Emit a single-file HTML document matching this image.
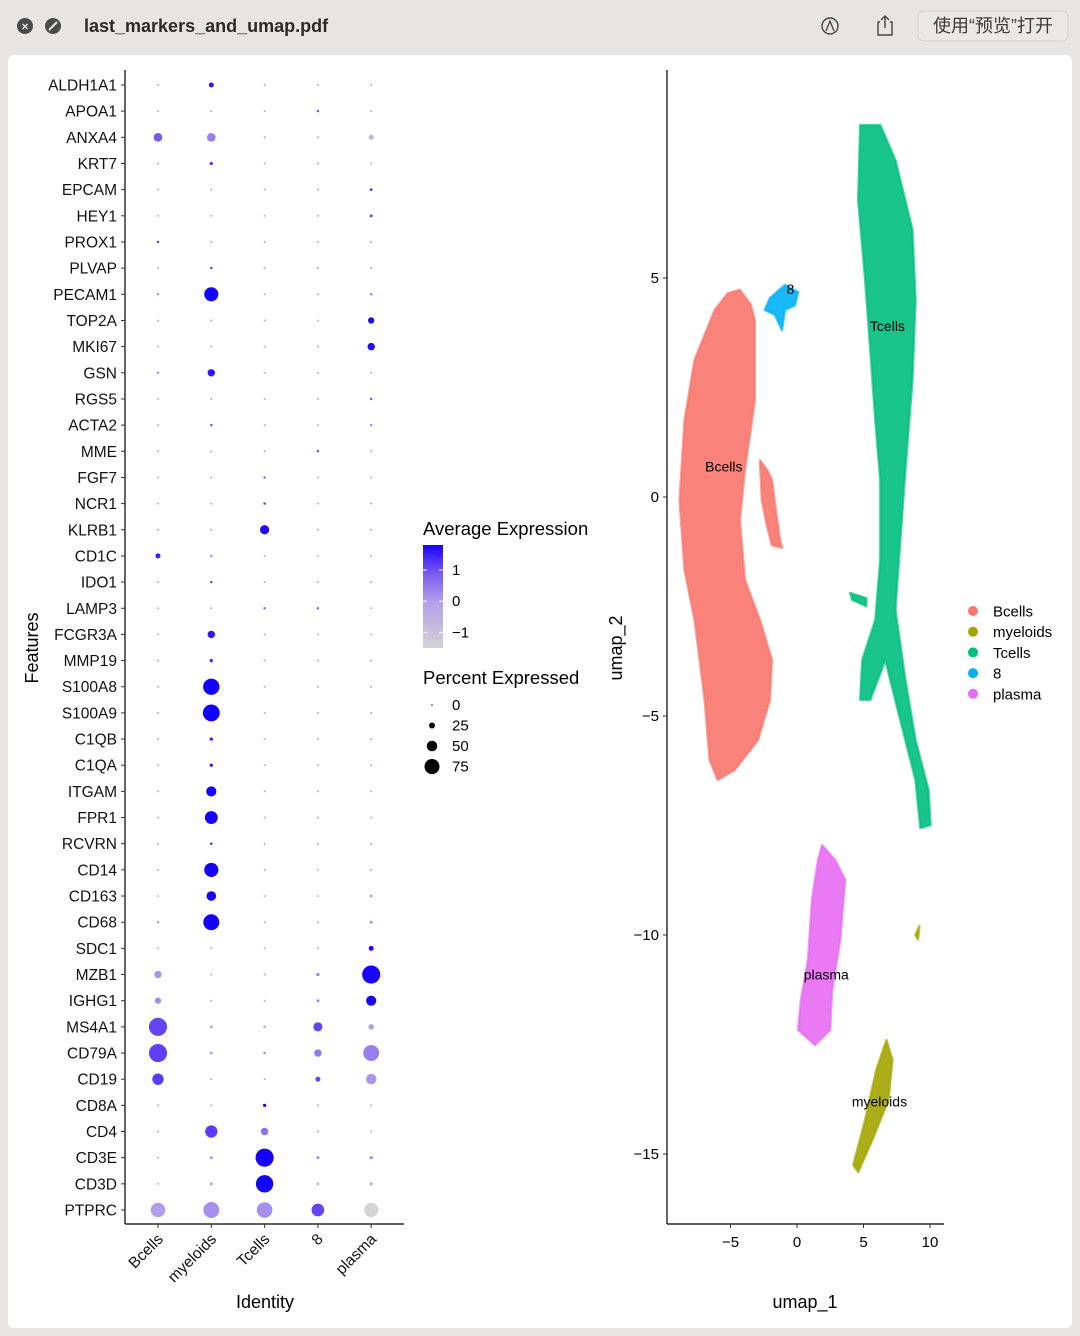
<!DOCTYPE html>
<html><head><meta charset="utf-8">
<style>
html,body{margin:0;padding:0;width:1080px;height:1336px;overflow:hidden;background:#e6e5e4;font-family:"Liberation Sans","Noto Sans CJK SC",sans-serif;}
svg text{font-family:"Liberation Sans","Noto Sans CJK SC",sans-serif;}
</style></head>
<body>
<svg id="root" width="1080" height="1336" viewBox="0 0 1080 1336" xmlns="http://www.w3.org/2000/svg">
  <rect x="0" y="0" width="1080" height="1336" fill="#e6e5e4"/>
  <g>
    <circle cx="25" cy="26" r="8" fill="#4a4a4a"/>
    <text x="25" y="30.5" font-size="12" fill="#e6e5e4" text-anchor="middle" font-weight="bold">×</text>
    <circle cx="53" cy="26" r="8" fill="#4a4a4a"/>
    <line x1="49" y1="30" x2="57" y2="22" stroke="#e6e5e4" stroke-width="2"/>
    <text x="84" y="32" font-size="18" fill="#2a2a2a" font-weight="bold">last_markers_and_umap.pdf</text>
    <circle cx="830" cy="26" r="8" fill="none" stroke="#444" stroke-width="1.4"/>
    <path d="M826 31 L830 21 L834 31" fill="none" stroke="#444" stroke-width="1.3"/>
    <g>
      <path d="M880 22 L878 22 L878 35 L892 35 L892 22 L890 22" fill="none" stroke="#444" stroke-width="1.4"/>
      <path d="M885 28 L885 16 M881 20 L885 16 L889 20" fill="none" stroke="#444" stroke-width="1.4"/>
    </g>
    <rect x="918" y="11" width="150" height="30" rx="6" fill="#e9e8e7" stroke="#d2d1d0"/>
    <text x="993" y="32" font-size="18" fill="#3a3a3a" text-anchor="middle">使用“预览”打开</text>
  </g>
  <rect x="8" y="55" width="1064" height="1273" rx="6" fill="#ffffff"/>
  <g id="dotplot"></g>
  <g id="umap"></g>
</svg>
<script>
const genes = ["ALDH1A1","APOA1","ANXA4","KRT7","EPCAM","HEY1","PROX1","PLVAP","PECAM1","TOP2A","MKI67","GSN","RGS5","ACTA2","MME","FGF7","NCR1","KLRB1","CD1C","IDO1","LAMP3","FCGR3A","MMP19","S100A8","S100A9","C1QB","C1QA","ITGAM","FPR1","RCVRN","CD14","CD163","CD68","SDC1","MZB1","IGHG1","MS4A1","CD79A","CD19","CD8A","CD4","CD3E","CD3D","PTPRC"];
const identities = ["Bcells","myeloids","Tcells","8","plasma"];
const pctExpressed = [
[3,20,3,3,3],[3,3,3,6,3],[40,40,4,4,20],[3,10,3,3,3],[3,3,3,3,8],[3,3,3,3,8],[6,3,3,3,3],[3,6,3,3,3],[6,70,3,3,8],[3,3,3,3,27],
[3,3,3,3,33],[6,33,3,3,3],[3,3,3,3,6],[3,6,3,3,6],[3,3,3,6,3],[3,3,6,3,3],[3,3,6,3,3],[3,3,43,3,3],[20,6,3,3,3],[3,6,3,3,3],
[3,3,6,6,3],[3,33,3,3,3],[3,10,3,3,3],[3,82,3,3,3],[3,85,3,3,3],[3,10,3,3,3],[3,10,3,3,3],[3,48,3,3,3],[3,63,3,3,3],[3,6,3,3,3],
[3,70,3,3,3],[3,45,3,3,6],[6,80,3,3,8],[3,3,3,3,20],[33,3,3,10,92],[27,3,3,8,48],[92,8,6,43,22],[92,8,8,33,80],[55,3,3,20,50],[3,3,10,3,3],
[3,60,33,3,3],[3,8,92,10,10],[3,8,88,6,8],[72,80,78,62,70]];
const avgExpression = [
[0,1.6,0,0,0],[0,0,0,1,0],[0.9,0.4,0,0,-0.6],[0,1.3,0,0,0],[0,0,0,0,1.2],[0,0,0,0,1.2],[1.2,0,0,0,0],[0,1.2,0,0,0],[0.2,1.8,0,0,0.1],[0,0,0,0,1.7],
[0,0,0,0,1.7],[0.3,1.6,0,0,0],[0,0,0,0,1],[0,1,0,0,0.3],[0,0,0,1,0],[0,0,0.8,0,0],[0,0,1.2,0,0],[0,0,1.7,0,0],[1.5,0.3,0,0,0],[0,1.2,0,0,0],
[0,0,0.8,0.8,0],[0,1.6,0,0,0],[0,1.5,0,0,0],[0,1.8,0,0,0],[0,1.8,0,0,0],[0,1.6,0,0,0],[0,1.6,0,0,0],[0,1.8,0,0,0],[0,1.8,0,0,0],[0,1.5,0,0,0],
[0,1.8,0,0,0],[0,1.8,0,0,0.3],[0.1,1.8,0,0,0.2],[0,0,0,0,1.7],[0.1,0,0,0.4,1.75],[0.2,0,0,0.3,1.75],[1.1,0,0,1.1,0],[1.15,0,0,0.5,0.4],[1.2,0,0,1.1,0.1],[0,0,1.7,0,0],
[0,1.2,0.6,0,0],[0,0.2,1.8,0.2,0.2],[0,0,1.8,0,0],[0,0.2,0.2,1.1,-1.5]];
const colorTicks = [1,0,-1];
const sizeTicks = [0,25,50,75];

const NS="http://www.w3.org/2000/svg";
function mk(tag,attrs,parent){const e=document.createElementNS(NS,tag);for(const k in attrs)e.setAttribute(k,attrs[k]);parent.appendChild(e);return e;}
const dp=document.getElementById('dotplot');
const colX = i => 158 + i*53.3;
const rowY = i => 85 + i*(1210-85)/43;
const radius = p => 0.7 + p*0.091;
const cMin=-1.5,cMax=1.8;
const stops=[[0,[211,211,211]],[0.45,[178,158,234]],[0.7,[128,96,240]],[0.85,[80,50,246]],[1,[20,0,255]]];
function colorOf(v){let t=(v-cMin)/(cMax-cMin);t=Math.max(0,Math.min(1,t));
  for(let k=1;k<stops.length;k++){if(t<=stops[k][0]){const a=stops[k-1],b=stops[k];const u=(t-a[0])/(b[0]-a[0]);
    const c=a[1].map((x,i)=>Math.round(x+(b[1][i]-x)*u));return `rgb(${c[0]},${c[1]},${c[2]})`;}}
  return 'rgb(20,0,255)';}
let ax=mk('line',{x1:125,y1:70,x2:125,y2:1224,stroke:'#000','stroke-width':1.2},dp);

ax=mk('line',{x1:125,y1:1224,x2:404,y2:1224,stroke:'#000','stroke-width':1.2},dp);

genes.forEach((g,i)=>{
  const y=rowY(i);
  const tk=mk('line',{x1:121,y1:y,x2:125,y2:y,stroke:'#333'},dp);
  
  
  const t=mk('text',{x:117,y:y+5.5,'font-size':15.5,'text-anchor':'end',fill:'#111'},dp);
  t.textContent=g;
  
  
  identities.forEach((id,j)=>{
    const c=mk('circle',{cx:colX(j),cy:y,r:radius(pctExpressed[i][j]),fill:colorOf(avgExpression[i][j])},dp);
    
    
  });
});
identities.forEach((id,j)=>{
  const x=colX(j);
  const tk=mk('line',{x1:x,y1:1224,x2:x,y2:1228,stroke:'#333'},dp);
  
  
  const t=mk('text',{x:x+6,y:1240,'font-size':15.5,'text-anchor':'end',transform:`rotate(-45 ${x+6} 1240)`,fill:'#111'},dp);
  t.textContent=id;
  
  
});
let tt=mk('text',{x:265,y:1308,'font-size':18,'text-anchor':'middle'},dp);tt.textContent='Identity';

tt=mk('text',{x:38,y:648,'font-size':18,'text-anchor':'middle',transform:'rotate(-90 38 648)'},dp);tt.textContent='Features';

const defs=mk('defs',{},dp);
const lg=mk('linearGradient',{id:'cg',x1:0,y1:1,x2:0,y2:0},defs);
stops.forEach(s=>mk('stop',{offset:String(s[0]),"stop-color":`rgb(${s[1].join(',')})`},lg));
tt=mk('text',{x:423,y:535,'font-size':18.5},dp);tt.textContent='Average Expression';

const cbTop=545,cbBot=648;
const cb=mk('rect',{x:423,y:cbTop,width:20,height:cbBot-cbTop,fill:'url(#cg)'},dp);

const cy = v => cbBot - (v-cMin)/(cMax-cMin)*(cbBot-cbTop);
colorTicks.forEach(v=>{
  const y=cy(v);
  const l=mk('line',{x1:423,y1:y,x2:427,y2:y,stroke:'#fff'},dp);
  
  const l2=mk('line',{x1:439,y1:y,x2:443,y2:y,stroke:'#fff'},dp);
  
  const t=mk('text',{x:452,y:y+5,'font-size':15},dp);t.textContent=v<0?'\u2212'+Math.abs(v):String(v);
  
});
tt=mk('text',{x:423,y:684,'font-size':18.5},dp);tt.textContent='Percent Expressed';

sizeTicks.forEach((v,k)=>{
  const y=705+k*20.5;
  const c=mk('circle',{cx:432,cy:y,r:radius(v),fill:'#000'},dp);
  
  const t=mk('text',{x:452,y:y+5,'font-size':15},dp);t.textContent=String(v);
  
});

// ===== UMAP =====
const clusterNames = ["Bcells","myeloids","Tcells","8","plasma"];
const clusterColors = ["#F8766D","#A3A500","#00BF7D","#00B0F6","#E76BF3"];
const bcellsShape = [[-4.3,4.73],[-3.5,4.4],[-3.17,4.04],[-3.17,2.21],[-3.92,0.62],[-4.3,-0.53],[-3.92,-1.89],[-2.79,-2.81],[-1.89,-3.72],[-2.04,-4.63],[-2.94,-5.55],[-4.68,-6.23],[-5.96,-6.46],[-6.57,-6.0],[-6.94,-4.63],[-7.7,-2.81],[-8.45,-1.67],[-8.83,-0.07],[-8.45,1.76],[-7.7,3.13],[-6.19,4.27],[-5.2,4.65]];
const bcellsSide = [[-2.79,0.84],[-2.2,0.6],[-1.89,0.39],[-1.5,-0.5],[-1.28,-0.98],[-1.13,-1.16],[-1.89,-1.1],[-2.3,-0.6],[-2.64,-0.07]];
const c8Shape = [[-2.04,4.54],[-0.91,4.84],[0.08,4.68],[-0.15,4.38],[-0.91,4.27],[-1.13,3.81],[-1.66,4.16],[-2.42,4.27]];
const tcellsShape = [[4.75,8.49],[4.6,6.78],[5.13,4.95],[5.51,3.36],[5.89,1.76],[6.26,0.39],[6.26,-1.44],[5.89,-2.81],[4.91,-3.72],[4.75,-4.63],[5.51,-4.63],[6.64,-3.72],[7.77,-5.09],[8.91,-6.46],[9.28,-7.56],[10.04,-7.49],[9.89,-6.69],[8.91,-5.55],[8.15,-4.18],[7.4,-2.58],[7.77,-0.98],[8.15,0.62],[8.68,2.67],[8.91,4.5],[8.68,6.1],[7.4,7.69],[6.26,8.49]];
const tcellsSide = [[4.0,-2.19],[5.21,-2.31],[5.21,-2.49],[4.15,-2.35]];
const plasmaShape = [[1.89,-7.95],[2.87,-8.29],[3.62,-8.74],[3.25,-10.11],[2.64,-11.26],[2.49,-12.17],[1.36,-12.51],[0.08,-12.17],[0.3,-11.48],[0.83,-10.57],[1.13,-9.2],[1.58,-8.29]];
const myeloidsShape = [[6.72,-12.4],[7.17,-12.85],[6.87,-13.77],[5.66,-14.68],[4.6,-15.41],[4.23,-15.25],[5.13,-14.22],[5.96,-13.08]];
const myeloidsSpeck = [[8.9,-10.0],[9.2,-9.8],[9.1,-10.1]];
const shapes = [[bcellsShape,0],[bcellsSide,0],[c8Shape,3],[tcellsShape,2],[tcellsSide,2],[plasmaShape,4],[myeloidsShape,1],[myeloidsSpeck,1]];
const clusterLabels = [["Bcells",-5.5,0.7],["8",-0.5,4.75],["Tcells",6.8,3.9],["plasma",2.2,-10.9],["myeloids",6.2,-13.8]];
const xTicks=[-5,0,5,10], yTicks=[5,0,-5,-10,-15];

const um=document.getElementById('umap');
const ux = v => 797 + v*13.3;
const uy = v => 497 - v*43.8;
shapes.forEach(([pts,ci])=>{
  const d='M'+pts.map(p=>ux(p[0]).toFixed(1)+' '+uy(p[1]).toFixed(1)).join(' L')+' Z';
  const p=mk('path',{d:d,fill:clusterColors[ci],stroke:clusterColors[ci],'stroke-width':2.5,'stroke-linejoin':'round','fill-opacity':0.9,'stroke-opacity':0.7},um);
  
  
});
clusterLabels.forEach(([n,x,y])=>{
  const t=mk('text',{x:ux(x),y:uy(y)+5,'font-size':14,'text-anchor':'middle',fill:'#000'},um);
  t.textContent=n;
  
  
});
ax=mk('line',{x1:667,y1:70,x2:667,y2:1224,stroke:'#000','stroke-width':1.2},um);

ax=mk('line',{x1:667,y1:1224,x2:944,y2:1224,stroke:'#000','stroke-width':1.2},um);

xTicks.forEach(v=>{
  const x=ux(v);
  const l=mk('line',{x1:x,y1:1224,x2:x,y2:1228,stroke:'#333'},um);
  
  const t=mk('text',{x:x,y:1247,'font-size':15,'text-anchor':'middle'},um);t.textContent=v<0?'\u2212'+Math.abs(v):String(v);
  
});
yTicks.forEach(v=>{
  const y=uy(v);
  const l=mk('line',{x1:663,y1:y,x2:667,y2:y,stroke:'#333'},um);
  
  const t=mk('text',{x:659,y:y+5,'font-size':15,'text-anchor':'end'},um);t.textContent=v<0?'\u2212'+Math.abs(v):String(v);
  
});
tt=mk('text',{x:805,y:1308,'font-size':18,'text-anchor':'middle'},um);tt.textContent='umap_1';

tt=mk('text',{x:622,y:648,'font-size':18,'text-anchor':'middle',transform:'rotate(-90 622 648)'},um);tt.textContent='umap_2';

clusterNames.forEach((n,k)=>{
  const y=611+k*20.7;
  const c=mk('circle',{cx:973,cy:y,r:5,fill:clusterColors[k]},um);
  
  const t=mk('text',{x:993,y:y+5.5,'font-size':15},um);t.textContent=n;
  
});
</script>
</body></html>
